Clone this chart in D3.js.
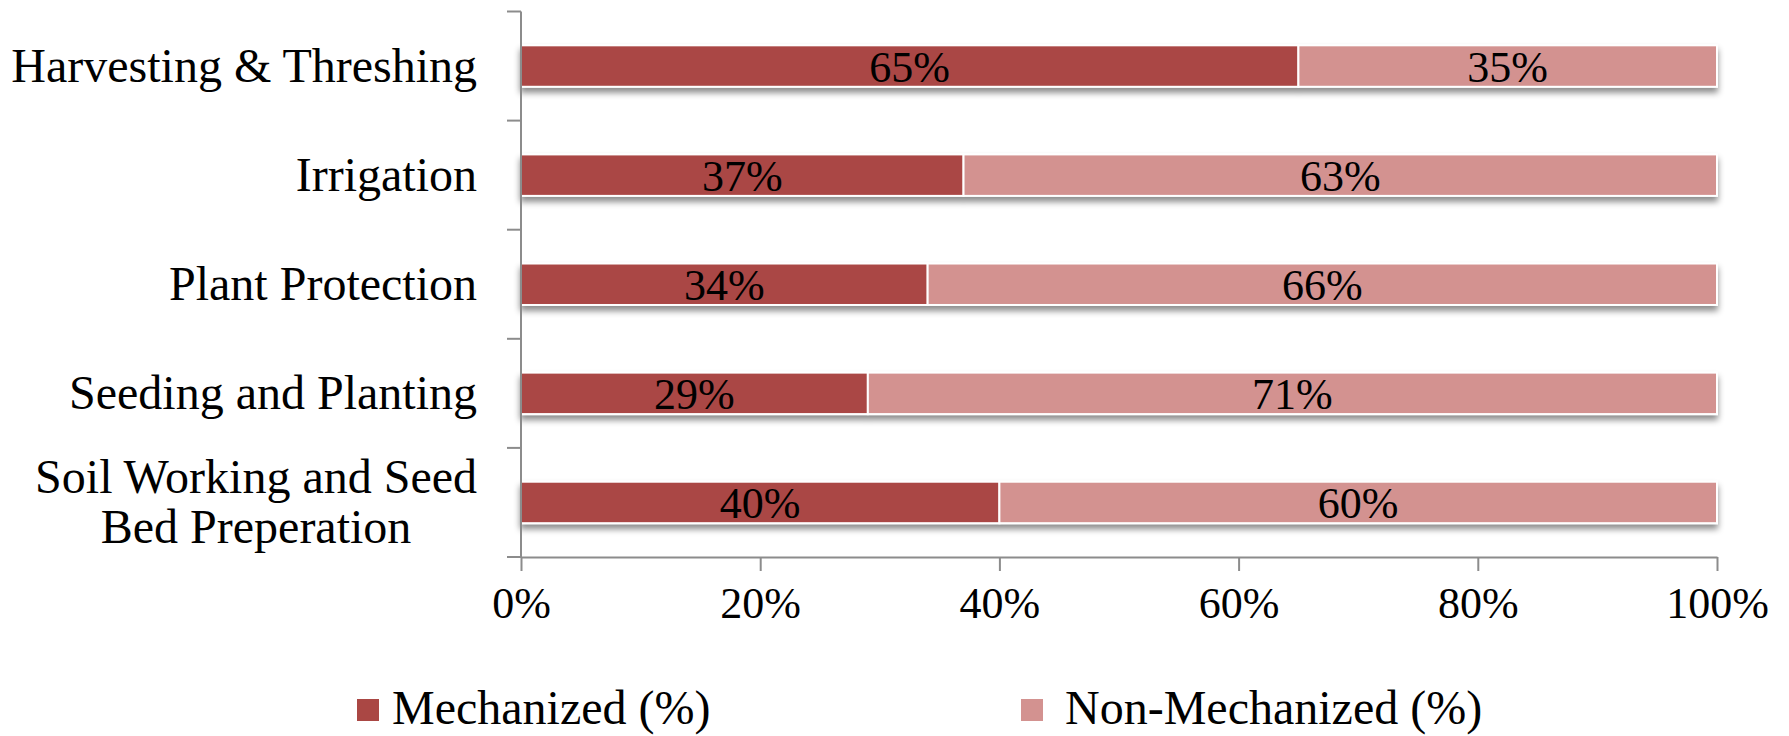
<!DOCTYPE html>
<html>
  <head>
    <style>
      body {
        margin: 0;
        background: #ffffff;
        font-family: "Liberation Serif", "Times New Roman", serif;
      }
    </style>
  </head>
  <body>
    <div id="chart"></div>
    <script src="https://d3js.org/d3.v7.min.js"></script>
    <script>

      var categories = [
        "Harvesting & Threshing",
        "Irrigation",
        "Plant Protection",
        "Seeding and Planting",
        "Soil Working and Seed|Bed Preperation"
      ];
      var mechanized = [65, 37, 34, 29, 40];
      var nonMechanized = [35, 63, 66, 71, 60];
      var seriesNames = ["Mechanized (%)", "Non-Mechanized (%)"];
      var xTicks = [0, 20, 40, 60, 80, 100];

      var colors = ["#aa4744", "#d39290"];

      var width = 1789, height = 736;

      var svg = d3.select("#chart")
        .append("svg")
          .attr("width", width)
          .attr("height", height)
          .style("font-family", "'Liberation Serif', 'Times New Roman', serif");

      // soft shadow under each bar
      var defs = svg.append("defs");
      var f = defs.append("filter")
        .attr("id", "shadow")
        .attr("x", "-2%").attr("y", "-30%")
        .attr("width", "104%").attr("height", "180%");
      f.append("feDropShadow")
        .attr("dx", 0).attr("dy", 5)
        .attr("stdDeviation", 3)
        .attr("flood-color", "#000")
        .attr("flood-opacity", 0.45);

      var x = d3.scaleLinear()
        .domain([0, 100])
        .range([521, 1717]);

      var y = d3.scaleBand()
        .domain(categories)
        .range([11.5, 557])
        .paddingInner(0.62)
        .paddingOuter(0.31);

      var rows = categories.map(function (c, i) {
        return {cat: c, segs: [
          {s: 0, x0: 0, x1: mechanized[i], v: mechanized[i]},
          {s: 1, x0: mechanized[i], x1: mechanized[i] + nonMechanized[i], v: nonMechanized[i]}
        ]};
      });

      // bars
      var row = svg.append("g")
        .selectAll("g")
        .data(rows)
        .enter()
        .append("g")
          .attr("filter", "url(#shadow)");

      row.selectAll("rect")
        .data(function (d) { return d.segs.map(function (s) { s.cat = d.cat; return s; }); })
        .enter()
        .append("rect")
          .attr("x", function (d) { return x(d.x0); })
          .attr("y", function (d) { return y(d.cat); })
          .attr("width", function (d) { return x(d.x1) - x(d.x0); })
          .attr("height", y.bandwidth())
          .attr("fill", function (d) { return colors[d.s]; })
          .attr("stroke", "#ffffff")
          .attr("stroke-width", 2);

      // value labels
      svg.append("g")
        .selectAll("g")
        .data(rows)
        .enter()
        .append("g")
        .selectAll("text")
        .data(function (d) { return d.segs; })
        .enter()
        .append("text")
          .attr("x", function (d) { return x((d.x0 + d.x1) / 2); })
          .attr("y", function (d) { return y(d.cat) + y.bandwidth() / 2; })
          .attr("dy", "0.36em")
          .attr("text-anchor", "middle")
          .style("font-size", "44px")
          .attr("fill", "#000")
          .text(function (d) { return d.v + "%"; });

      // axes
      var axisColor = "#8c8c8c";
      var step = y.step();
      var edges = d3.range(categories.length + 1).map(function (i) {
        return y.range()[0] + i * step;
      });

      var yAxis = svg.append("g");
      yAxis.append("line")
        .attr("x1", x(0)).attr("x2", x(0))
        .attr("y1", edges[0]).attr("y2", edges[edges.length - 1])
        .attr("stroke", axisColor).attr("stroke-width", 2);
      yAxis.selectAll(".tk")
        .data(edges)
        .enter()
        .append("line")
          .attr("x1", x(0) - 14).attr("x2", x(0))
          .attr("y1", function (d) { return d; })
          .attr("y2", function (d) { return d; })
          .attr("stroke", axisColor).attr("stroke-width", 2);

      var xAxis = svg.append("g")
        .attr("transform", "translate(0," + edges[edges.length - 1] + ")")
        .call(d3.axisBottom(x)
          .tickValues(xTicks)
          .tickSize(14)
          .tickSizeOuter(0)
          .tickPadding(16)
          .tickFormat(function (d) { return d + "%"; }));
      xAxis.select(".domain").attr("stroke", axisColor).attr("stroke-width", 2);
      xAxis.selectAll(".tick line").attr("stroke", axisColor).attr("stroke-width", 2);
      xAxis.selectAll(".tick text")
        .attr("fill", "#000")
        .style("font-family", "'Liberation Serif', 'Times New Roman', serif")
        .style("font-size", "44px");

      // category labels (multi-line ones are centred on their own block)
      var lineH = 50, labelRight = 477;
      svg.append("g")
        .selectAll("text")
        .data(categories)
        .enter()
        .append("text")
          .attr("y", function (d) { return y(d) + y.bandwidth() / 2; })
          .style("font-size", "48px")
          .attr("fill", "#000")
          .each(function (d) {
            var lines = d.split("|");
            var t = d3.select(this);
            var spans = lines.map(function (ln, i) {
              return t.append("tspan")
                .attr("dy", i === 0 ? (-(lines.length - 1) * lineH / 2 + 16) : lineH)
                .text(ln);
            });
            if (lines.length === 1) {
              t.attr("text-anchor", "end");
              spans[0].attr("x", labelRight);
            } else {
              var w = d3.max(spans, function (s) { return s.node().getComputedTextLength(); });
              t.attr("text-anchor", "middle");
              spans.forEach(function (s) { s.attr("x", labelRight - w / 2); });
            }
          });

      // legend
      var legendX = [357, 1021];
      var legendGap = [35, 44];
      var legend = svg.append("g")
        .selectAll("g")
        .data(seriesNames)
        .enter()
        .append("g")
          .attr("transform", function (d, i) { return "translate(" + legendX[i] + ",699)"; });
      legend.append("rect")
        .attr("width", 22).attr("height", 22)
        .attr("fill", function (d, i) { return colors[i]; });
      legend.append("text")
        .attr("x", function (d, i) { return legendGap[i]; })
        .attr("y", 25)
        .style("font-size", "48px")
        .attr("fill", "#000")
        .text(function (d) { return d; });

    </script>
  </body>
</html>
